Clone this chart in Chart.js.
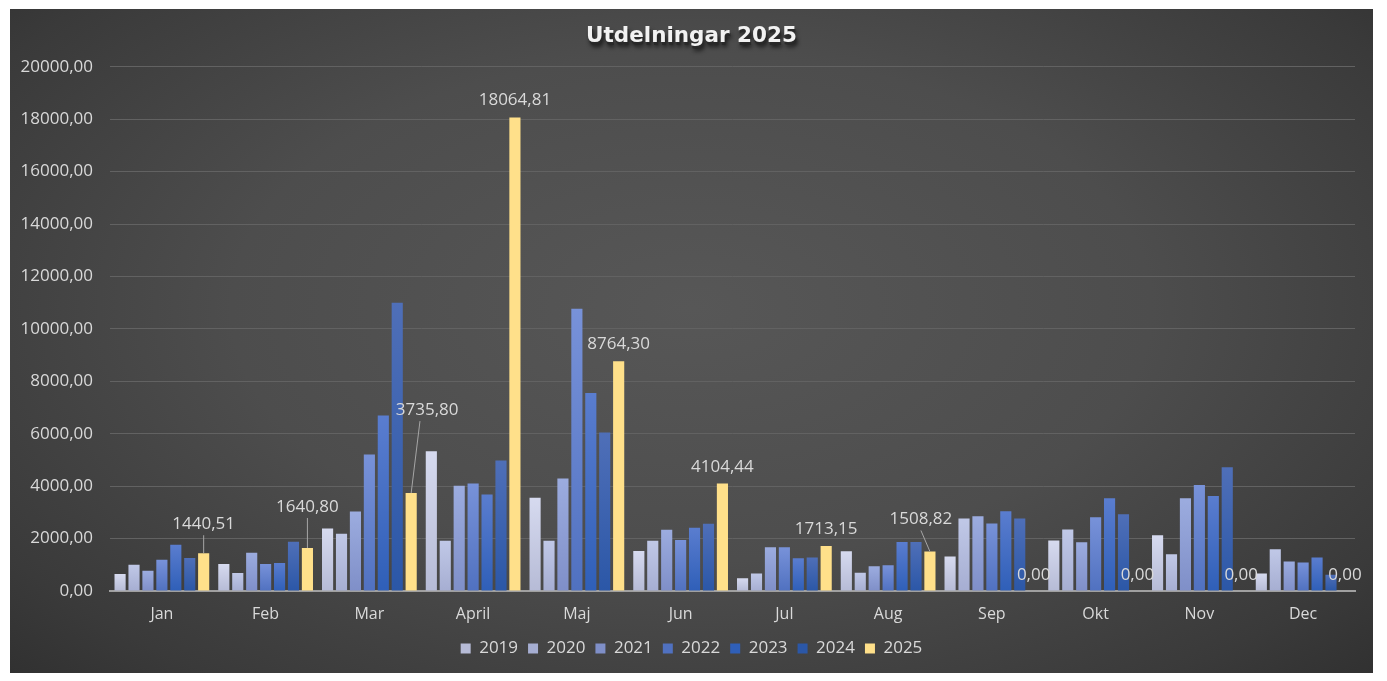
<!DOCTYPE html>
<html>
<head>
<meta charset="utf-8">
<script src="https://cdn.jsdelivr.net/npm/chart.js@4.4.1/dist/chart.umd.min.js"></script>
<style>
  html, body { margin: 0; padding: 0; background: #ffffff; }
  #box {
    position: absolute; left: 10px; top: 9px; width: 1363px; height: 664px;
    background: radial-gradient(ellipse 75% 85% at 50% 45%, #575757 0%, #4d4d4d 45%, #3a3a3a 80%, #2c2c2c 100%);
  }
  canvas { display: block; }
</style>
</head>
<body>
<div id="box"><canvas id="c" width="1363" height="664"></canvas></div>
<script>
const categories = ['Jan','Feb','Mar','April','Maj','Jun','Jul','Aug','Sep','Okt','Nov','Dec'];
const seriesNames = ['2019','2020','2021','2022','2023','2024','2025'];
const s2019 = [650, 1030, 2380, 5330, 3560, 1530, 490, 1520, 1320, 1930, 2130, 670];
const s2020 = [1000, 690, 2180, 1920, 1920, 1920, 670, 700, 2770, 2350, 1400, 1590];
const s2021 = [770, 1460, 3030, 4020, 4290, 2340, 1670, 940, 2850, 1860, 3540, 1130];
const s2022 = [1190, 1030, 5210, 4100, 10770, 1950, 1670, 980, 2580, 2810, 4040, 1090];
const s2023 = [1760, 1070, 6700, 3680, 7550, 2410, 1250, 1870, 3040, 3540, 3620, 1280];
const s2024 = [1260, 1880, 11000, 4980, 6050, 2570, 1280, 1870, 2770, 2930, 4720, 620];
const s2025 = [1440.51, 1640.80, 3735.80, 18064.81, 8764.30, 4104.44, 1713.15, 1508.82, 0, 0, 0, 0];
const yTicks = [0, 2000, 4000, 6000, 8000, 10000, 12000, 14000, 16000, 18000, 20000];

// styling
const colTop = ['#d6daef', '#c0c8e7', '#9cacdf', '#7892d9', '#5a7dcf', '#4f6fb8', '#ffe08a'];
const colBot = ['#b6bbd6', '#a6aed2', '#7f8fc8', '#5071c0', '#2f5fb8', '#2b57a7', '#ffe08a'];
const labelShift = [[0,-29],[0,-41],[16,-83],[0,-17],[0,-17],[0,-16],[0,-17],[-9,-32],[0,-16],[0,-16],[0,-16],[0,-16]];
const leader = [true, true, true, false, false, false, false, true, false, false, false, false];

const textCol = '#d9d9d9';
const FONT = "'Open Sans', 'Noto Sans', sans-serif";
const fmt = v => v.toFixed(2).replace('.', ',');

const allSeries = [s2019, s2020, s2021, s2022, s2023, s2024, s2025];

function barFill(i) {
  return (ctx) => {
    if (ctx.type !== 'data') return colTop[i];
    const chart = ctx.chart;
    if (!chart.chartArea || !chart.scales.y) return colTop[i];
    const y = chart.scales.y;
    const t = y.getPixelForValue(ctx.raw);
    const b = y.getPixelForValue(0);
    if (!(b - t > 1)) return colTop[i];
    const g = chart.ctx.createLinearGradient(0, t, 0, b);
    g.addColorStop(0, colTop[i]);
    g.addColorStop(1, colBot[i]);
    return g;
  };
}

const datasets = allSeries.map((arr, i) => ({
  label: seriesNames[i],
  data: arr,
  yAxisID: 'y',
  backgroundColor: barFill(i),
  borderWidth: 0,
  categoryPercentage: 0.94,
  barPercentage: 0.8
}));

const labelPlugin = {
  id: 'labels2025',
  afterDatasetsDraw(chart) {
    const ctx = chart.ctx;
    const meta = chart.getDatasetMeta(6);
    ctx.save();
    ctx.font = "17px " + FONT;
    ctx.textAlign = 'center';
    ctx.textBaseline = 'middle';
    meta.data.forEach((el, i) => {
      const v = s2025[i];
      const [dx, dy] = labelShift[i];
      const lx = el.x + dx, ly = el.y + dy;
      if (leader[i]) {
        ctx.strokeStyle = '#a6a6a6';
        ctx.lineWidth = 1;
        ctx.beginPath();
        ctx.moveTo(dx > 0 ? lx - dx * 0.45 : lx, ly + 11);
        ctx.lineTo(el.x, el.y);
        ctx.stroke();
      }
      ctx.fillStyle = textCol;
      ctx.fillText(fmt(v), lx, ly);
    });
    ctx.restore();
  }
};

const titleShadow = {
  id: 'titleShadow',
  beforeDraw(chart) {
    const tb = chart.titleBlock;
    if (!tb) return;
    const ctx = chart.ctx;
    ctx.save();
    ctx.font = "bold 21.5px 'DejaVu Sans', sans-serif";
    ctx.textAlign = 'center';
    ctx.textBaseline = 'middle';
    ctx.shadowColor = 'rgba(0,0,0,0.8)';
    ctx.shadowBlur = 4;
    ctx.shadowOffsetX = 1;
    ctx.shadowOffsetY = 2;
    ctx.fillStyle = 'rgba(40,40,40,0.9)';
    ctx.fillText('Utdelningar 2025', (tb.left + tb.right) / 2 + 1, tb.top + tb.options.padding.top + 13 + 2);
    ctx.restore();
  }
};

new Chart(document.getElementById('c'), {
  type: 'bar',
  data: { labels: categories, datasets },
  options: {
    responsive: false,
    animation: false,
    layout: { padding: { left: 0, right: 0, top: 0, bottom: 6 } },
    plugins: {
      title: {
        display: true,
        text: 'Utdelningar 2025',
        color: '#f2f2f2',
        font: { family: "'DejaVu Sans', sans-serif", size: 21.5, weight: 'bold', lineHeight: 1.2 },
        padding: { top: 15, bottom: 17 }
      },
      legend: {
        display: true,
        position: 'bottom',
        labels: {
          color: textCol,
          font: { family: FONT, size: 17 },
          boxWidth: 10,
          boxHeight: 10,
          padding: 10
        }
      },
      tooltip: { enabled: false }
    },
    scales: {
      x: {
        grid: { display: false, drawTicks: false },
        border: { display: true, color: '#a0a0a0', width: 2 },
        ticks: { color: textCol, font: { family: FONT, size: 16 }, padding: 14 },
        afterFit(s) { s.height = 39; }
      },
      y: {
        min: 0, max: 20000,
        afterBuildTicks(s) { s.ticks = yTicks.map(v => ({ value: v })); },
        grid: { color: '#626262', lineWidth: 1, drawTicks: false },
        border: { display: false },
        ticks: { color: textCol, font: { family: FONT, size: 17 }, padding: 17, callback: v => fmt(v) },
        afterFit(s) { s.width = 100; }
      },
      yR: {
        position: 'right',
        min: 0, max: 1,
        grid: { display: false, drawTicks: false },
        border: { display: false },
        ticks: { display: false },
        afterFit(s) { s.width = 18; }
      }
    }
  },
  plugins: [labelPlugin, titleShadow]
});
</script>
</body>
</html>
